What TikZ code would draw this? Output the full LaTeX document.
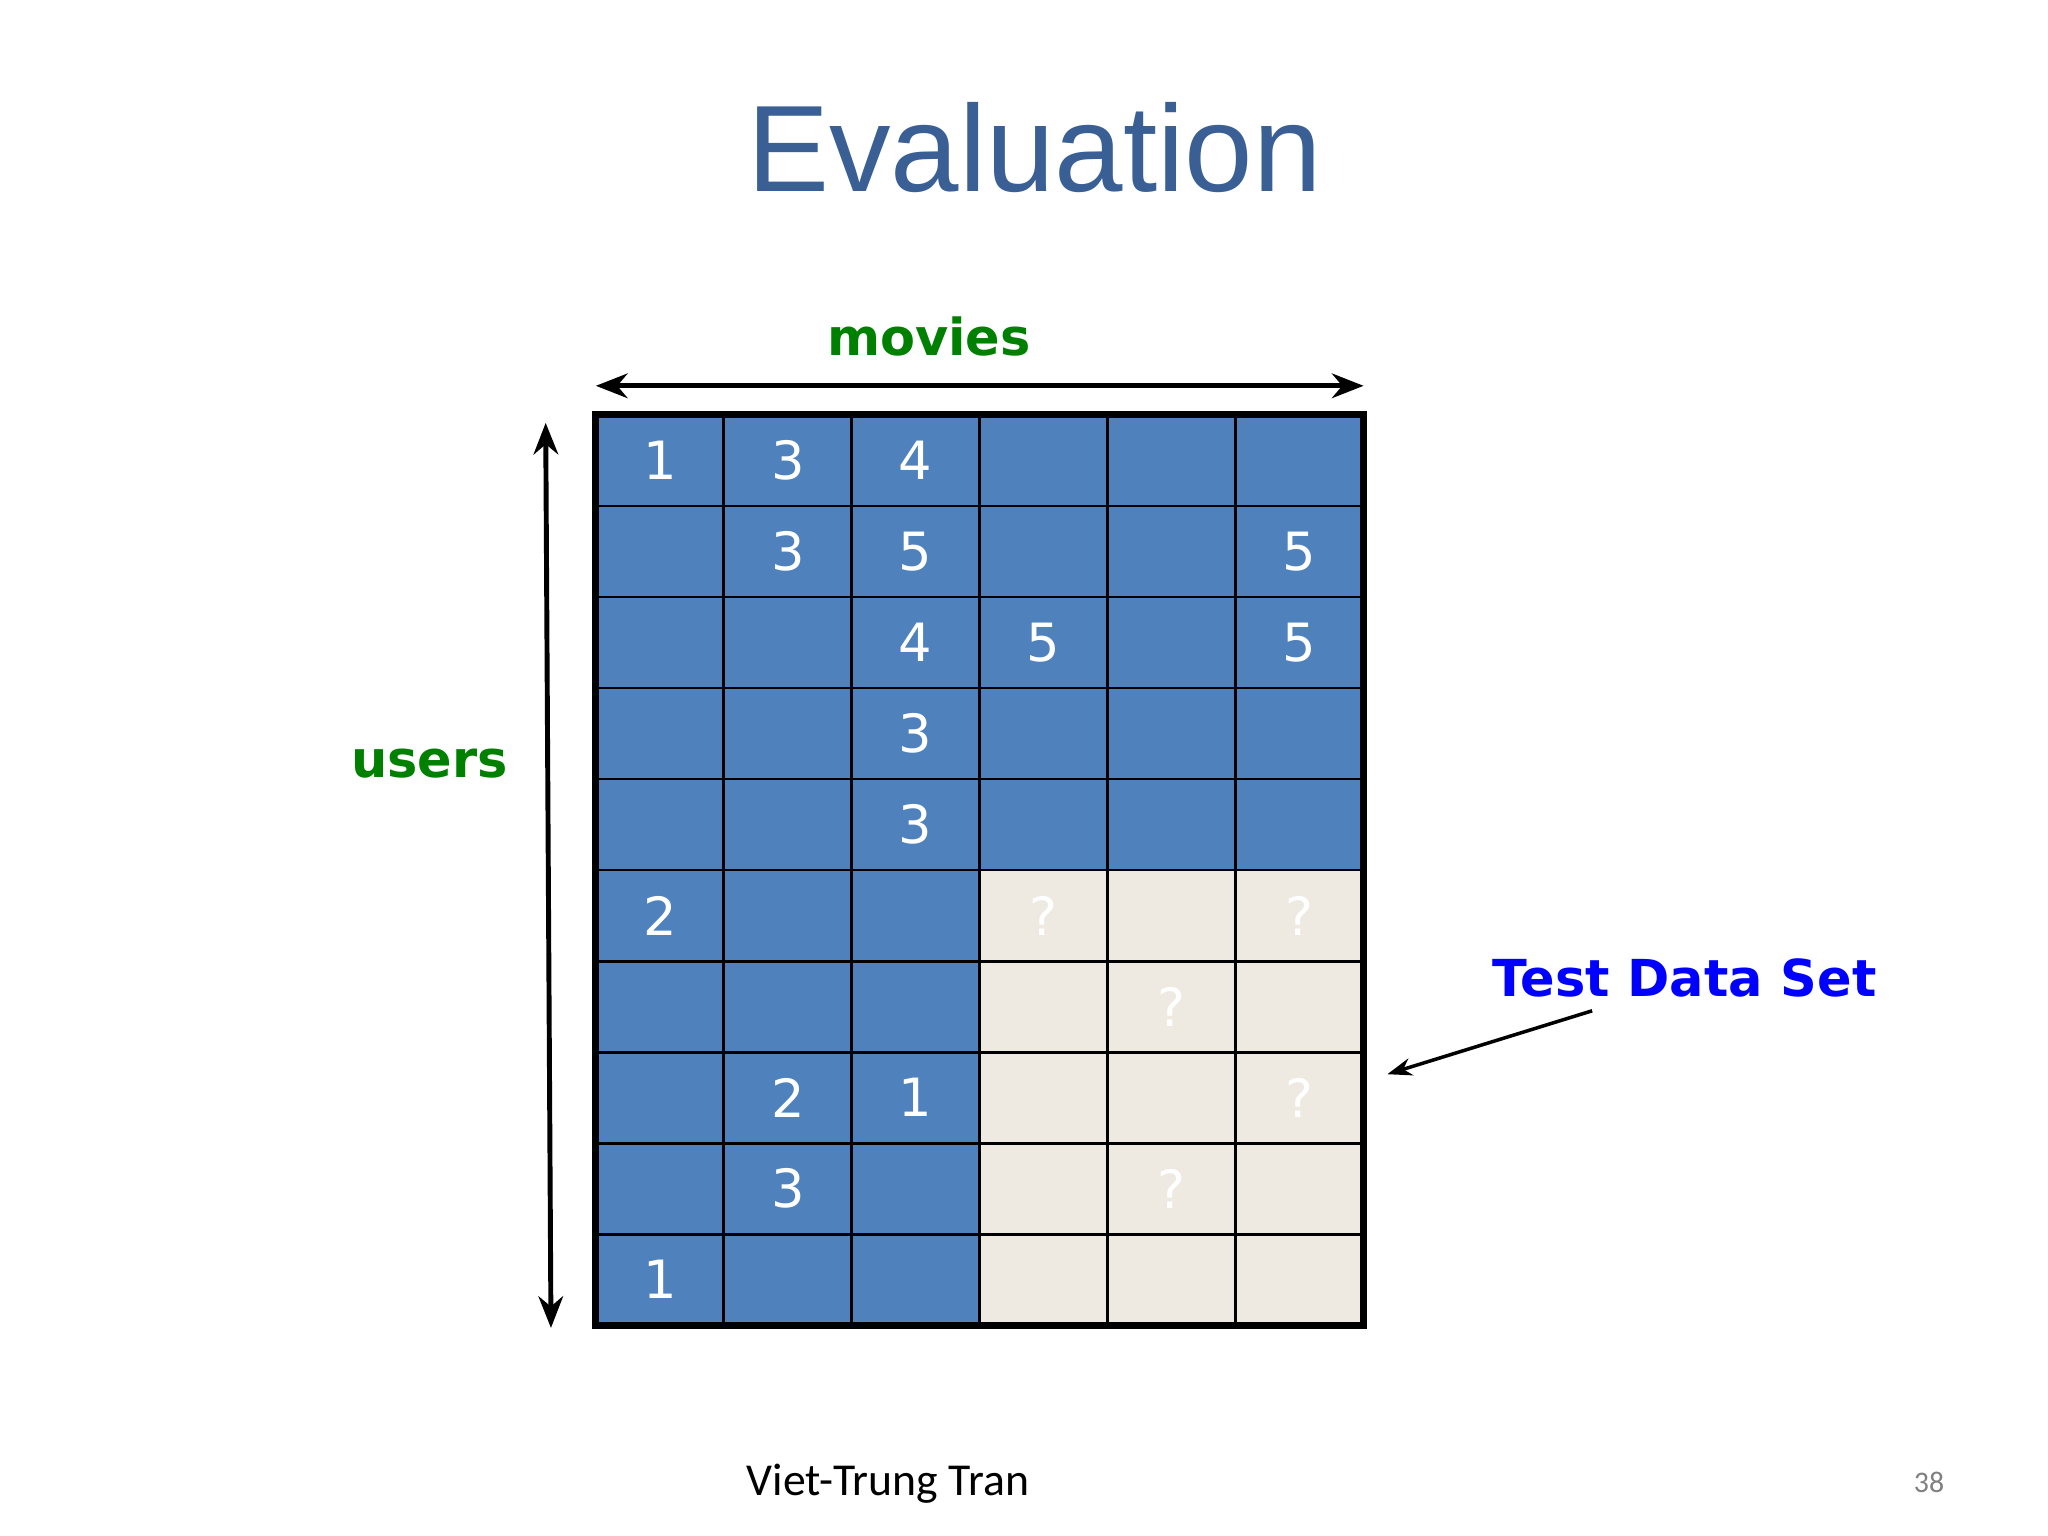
\documentclass[tikz,border=0pt]{standalone}
\usepackage{fontspec}
\setmainfont{DejaVu Sans}
\newfontfamily\titlefont{Liberation Sans}
\newfontfamily\footfont{Carlito}
\usetikzlibrary{arrows.meta}
\definecolor{cellblue}{HTML}{4F81BD}
\definecolor{cellbeige}{HTML}{EEEAE2}
\definecolor{titleblue}{HTML}{3A5F95}
\definecolor{lblgreen}{HTML}{008000}
\tikzset{
  cell/.style={draw=black, line width=0.8pt, minimum width=97\pgflinewidth, inner sep=0pt, text=white, font=\fontsize{15}{15}\selectfont},
  lbl/.style={font=\bfseries\fontsize{14.5}{16}\selectfont},
  arr/.style={line width=1.4pt, -{Stealth[length=9pt,width=7pt]}},
}
\begin{document}
\begin{tikzpicture}[x=0.013213cm,y=-0.013213cm]
\useasboundingbox (0,0) rectangle (1550,1162.5);
\node[font=\titlefont\fontsize{35}{40}\selectfont, text=titleblue] (title) at (783,112) {Evaluation};
% grid
\def\cw{96.83}
\def\rh{68.9}
\foreach \r/\vals in {1/{1,3,4,,,},2/{,3,5,,,5},3/{,,4,5,,5},4/{,,3,,,},5/{,,3,,,},6/{2,,,?,,?},7/{,,,,?,},8/{,2,1,,,?},9/{,3,,,?,},10/{1,,,,,}}{
  \foreach \v [count=\c] in \vals {
    \pgfmathsetmacro{\xa}{451+(\c-1)*\cw}
    \pgfmathsetmacro{\ya}{314+(\r-1)*\rh}
    \pgfmathsetmacro{\xm}{\xa+\cw/2}
    \pgfmathsetmacro{\ym}{\ya+\rh/2}
    \ifnum\r>5 \ifnum\c>3 \def\fc{cellbeige}\else\def\fc{cellblue}\fi\else\def\fc{cellblue}\fi
    \fill[\fc] (\xa,\ya) rectangle ++(\cw,\rh);
    \draw[line width=0.8pt] (\xa,\ya) rectangle ++(\cw,\rh);
    \node[text=white, font=\fontsize{15}{15}\selectfont] (c\r-\c) at (\xm,\ym) {\v};
  }
}
\draw[line width=2pt] (451,314) rectangle (1032,1003);
\coordinate (gtl) at (451,292); \coordinate (gtr) at (1032,292);
\coordinate (ut) at (413,320); \coordinate (ub) at (417,1005);
\draw[arr, {Stealth[length=9pt,width=7pt]}-{Stealth[length=9pt,width=7pt]}] (gtl) -- (gtr);
\draw[arr, {Stealth[length=9pt,width=7pt]}-{Stealth[length=9pt,width=7pt]}] (ut) -- (ub);
\node[lbl, text=lblgreen] (movies) at (703,255) {movies};
\node[lbl, text=lblgreen] (users) at (325,578) {users};
\node[lbl, text=blue] (test) at (1275,740) {Test Data Set};
\coordinate (tend) at (1050,813);
\draw[line width=1pt, -{Stealth[length=7pt,width=5pt]}] (1205,765) -- (tend);
\node[font=\footfont\fontsize{13}{14}\selectfont] (foot) at (672,1123) {Viet-Trung Tran};
\node[font=\footfont\fontsize{8.5}{10}\selectfont, text=gray] (page) at (1460,1122) {38};
\end{tikzpicture}
\end{document}
